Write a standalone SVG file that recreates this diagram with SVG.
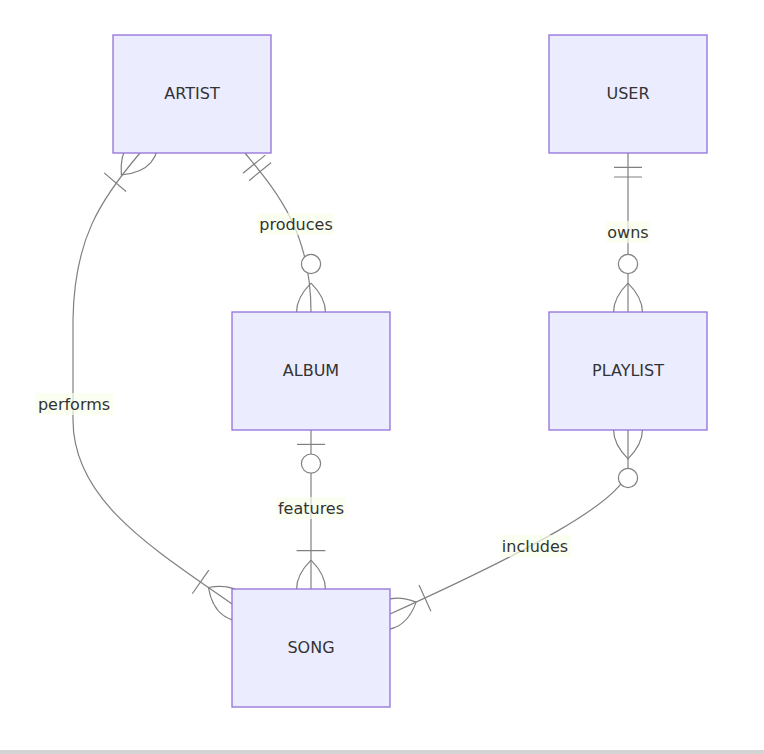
<svg xmlns="http://www.w3.org/2000/svg" width="764" height="754" viewBox="0 0 764 754">
<style>
.edge{fill:none;stroke:#808080;stroke-width:1.2}
.mk{fill:none;stroke:#808080;stroke-width:0.75}
.mkc{fill:#ffffff;stroke:#808080;stroke-width:0.75}
.ent{fill:#ECECFF;stroke:#9370DB;stroke-width:1.3}
.etxt{font-family:"DejaVu Sans",Verdana,sans-serif;font-size:16px;fill:#333333;text-anchor:middle}
.lbg{fill:hsl(80,100%,96.27%);opacity:0.7}
.ltxt{font-family:"DejaVu Sans",Verdana,sans-serif;font-size:16px;fill:#333333;text-anchor:middle}
</style>
<defs>
<marker id="oneOrMoreStart" markerUnits="userSpaceOnUse" viewBox="0 0 45 36" markerWidth="72" markerHeight="57.6" refX="18" refY="18" orient="auto">
<path class="mk" d="M0,18 Q18,0 36,18 Q18,36 0,18 M42,9 L42,27"/>
</marker>
<marker id="oneOrMoreEnd" markerUnits="userSpaceOnUse" viewBox="0 0 45 36" markerWidth="72" markerHeight="57.6" refX="27" refY="18" orient="auto">
<path class="mk" d="M3,9 L3,27 M9,18 Q27,0 45,18 Q27,36 9,18"/>
</marker>
<marker id="zeroOrMoreStart" markerUnits="userSpaceOnUse" viewBox="0 0 57 36" markerWidth="91.2" markerHeight="57.6" refX="18" refY="18" orient="auto">
<circle class="mkc" cx="48" cy="18" r="6"/>
<path class="mk" d="M0,18 Q18,0 36,18 Q18,36 0,18"/>
</marker>
<marker id="zeroOrMoreEnd" markerUnits="userSpaceOnUse" viewBox="0 0 57 36" markerWidth="91.2" markerHeight="57.6" refX="39" refY="18" orient="auto">
<circle class="mkc" cx="9" cy="18" r="6"/>
<path class="mk" d="M21,18 Q39,0 57,18 Q39,36 21,18"/>
</marker>
<marker id="onlyOneStart" markerUnits="userSpaceOnUse" viewBox="0 0 18 18" markerWidth="28.8" markerHeight="28.8" refX="0" refY="9" orient="auto">
<path class="mk" d="M9,0 L9,18 M15,0 L15,18"/>
</marker>
<marker id="zeroOrOneStart" markerUnits="userSpaceOnUse" viewBox="0 0 30 18" markerWidth="48" markerHeight="28.8" refX="0" refY="9" orient="auto">
<circle class="mkc" cx="21" cy="9" r="6"/>
<path class="mk" d="M9,0 L9,18"/>
</marker>
</defs>
<rect x="0" y="0" width="764" height="754" fill="#ffffff"/>
<g id="connectors">
<path id="e-performs" class="edge" d="M140,153 C100,200 74,240 73,320 L73,420 C73,500 152,548 232,604" marker-start="url(#oneOrMoreStart)" marker-end="url(#oneOrMoreEnd)"/>
<path id="e-produces" class="edge" d="M245,153 C275,190 311,230 311,312" marker-start="url(#onlyOneStart)" marker-end="url(#zeroOrMoreEnd)"/>
<path id="e-owns" class="edge" d="M628,153 L628,312" marker-start="url(#onlyOneStart)" marker-end="url(#zeroOrMoreEnd)"/>
<path id="e-features" class="edge" d="M311,430 L311,589" marker-start="url(#zeroOrOneStart)" marker-end="url(#oneOrMoreEnd)"/>
<path id="e-includes" class="edge" d="M628,430 L628,468 C628,500 520,555 390,614" marker-start="url(#zeroOrMoreStart)" marker-end="url(#oneOrMoreEnd)"/>
</g>
<g id="edge-labels">
<g id="l-performs"><rect class="lbg" x="35" y="393" width="78" height="22"/><text class="ltxt" x="74" y="410">performs</text></g>
<g id="l-produces"><rect class="lbg" x="258" y="213" width="76" height="22"/><text class="ltxt" x="296" y="230">produces</text></g>
<g id="l-owns"><rect class="lbg" x="606" y="221" width="44" height="22"/><text class="ltxt" x="628" y="238">owns</text></g>
<g id="l-features"><rect class="lbg" x="276" y="497" width="70" height="22"/><text class="ltxt" x="311" y="514">features</text></g>
<g id="l-includes"><rect class="lbg" x="500" y="535" width="71" height="22"/><text class="ltxt" x="535" y="552">includes</text></g>
</g>
<g id="ARTIST"><rect class="ent" x="113" y="35" width="158" height="118"/><text class="etxt" x="192" y="99">ARTIST</text></g>
<g id="USER"><rect class="ent" x="549" y="35" width="158" height="118"/><text class="etxt" x="628" y="99">USER</text></g>
<g id="ALBUM"><rect class="ent" x="232" y="312" width="158" height="118"/><text class="etxt" x="311" y="376">ALBUM</text></g>
<g id="PLAYLIST"><rect class="ent" x="549" y="312" width="158" height="118"/><text class="etxt" x="628" y="376">PLAYLIST</text></g>
<g id="SONG"><rect class="ent" x="232" y="589" width="158" height="118"/><text class="etxt" x="311" y="653">SONG</text></g>
<rect x="0" y="750" width="764" height="4" fill="#d3d3d3"/>
</svg>
